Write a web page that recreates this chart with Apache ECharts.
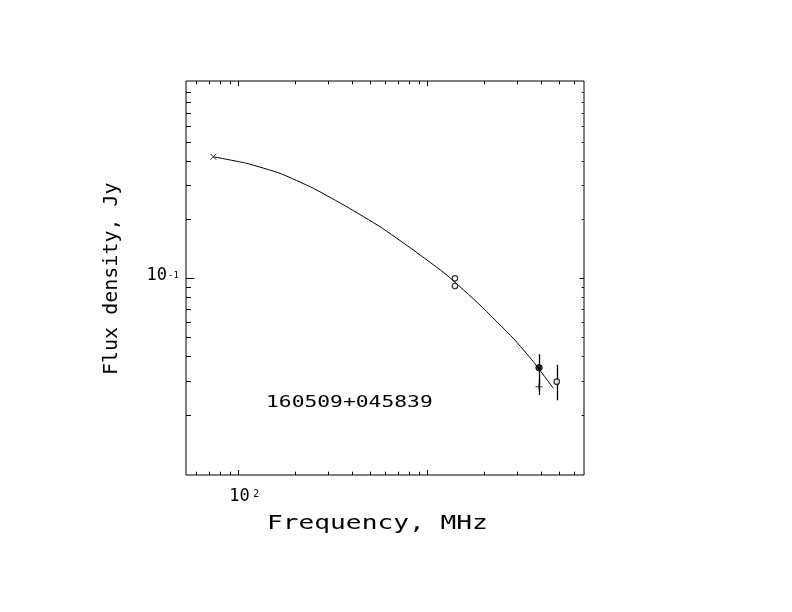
<!DOCTYPE html>
<html>
<head>
<meta charset="utf-8">
<script src="https://cdn.jsdelivr.net/npm/echarts@6/dist/echarts.min.js"></script>
<style>
  html, body { margin: 0; padding: 0; background: #fff; }
  #chart { width: 792px; height: 612px; }
</style>
</head>
<body>
<div id="chart"></div>
<script>
// axis extents (MHz, Jy)
const freqMin = 52.9
const freqMax = 6745
const fluxMin = 0.00987
const fluxMax = 1.02

// tick values
const xMajorTicks = [100, 1000]
const xMinorTicks = [60, 70, 80, 90, 200, 300, 400, 500, 600, 700, 800, 900, 2000, 3000, 4000, 5000, 6000]
const yMajorTicks = [0.1]
const yMinorTicks = [0.02, 0.03, 0.04, 0.05, 0.06, 0.07, 0.08, 0.09, 0.2, 0.3, 0.4, 0.5, 0.6, 0.7, 0.8, 0.9]
const xLabelTicks = [100]
const xLabelExp = ['2']
const yLabelTicks = [0.1]
const yLabelExp = ['-1']

// fitted spectrum
const fitCurve = [
  [73.8, 0.418], [110.8, 0.387], [166.2, 0.344], [249.4, 0.2885],
  [374.6, 0.2323], [561.9, 0.1836], [843.3, 0.1395], [1266.6, 0.104],
  [1900, 0.073], [2851, 0.0493], [3637, 0.0375], [4642, 0.0274]
]

// measurements
const crossPoints = [[73.8, 0.418]]
const openCircles = [[1400, 0.1], [1400, 0.0913], [4840, 0.0296]]
const filledCircles = [[3900, 0.0349]]
const plusPoints = [[3900, 0.0279]]
// [freq, low, high]
const errorBars = [[3900, 0.029, 0.0409], [3900, 0.0253, 0.0305], [4840, 0.0238, 0.0361]]

const sourceName = '160509+045839'
const xName = 'Frequency, MHz'
const yName = 'Flux density, Jy'

const MONO = '"DejaVu Sans Mono", monospace'

function line (x1, y1, x2, y2, w) {
  return { type: 'line', shape: { x1: x1, y1: y1, x2: x2, y2: y2 }, style: { stroke: '#000', lineWidth: w || 1 } }
}

function txt (x, y, text, size, align) {
  return {
    type: 'text',
    x: x,
    y: y,
    style: { text: text, font: size + 'px ' + MONO, fill: '#000', align: align, textAlign: align, verticalAlign: 'top', textVerticalAlign: 'top' }
  }
}

let chart = echarts.init(document.getElementById('chart'))
chart.setOption({
  animation: false,
  backgroundColor: '#fff',
  grid: { left: 186, top: 81, width: 398, height: 394, show: true, borderColor: '#000', borderWidth: 1, backgroundColor: 'transparent' },
  xAxis: {
    type: 'log', logBase: 10, min: freqMin, max: freqMax,
    axisLine: { show: false }, axisTick: { show: false }, axisLabel: { show: false }, splitLine: { show: false }
  },
  yAxis: {
    type: 'log', logBase: 10, min: fluxMin, max: fluxMax,
    axisLine: { show: false }, axisTick: { show: false }, axisLabel: { show: false }, splitLine: { show: false }
  },
  graphic: [
    { type: 'text', x: 267, y: 524, scaleX: 1.31, style: { text: xName, font: '20px ' + MONO, fill: '#000', align: 'left', textAlign: 'left', verticalAlign: 'middle', textVerticalAlign: 'middle' } },
    { type: 'text', x: 112, y: 375, rotation: Math.PI / 2, style: { text: yName, font: '20px ' + MONO, fill: '#000', align: 'left', textAlign: 'left', verticalAlign: 'middle', textVerticalAlign: 'middle' } },
    { type: 'text', x: 266, y: 403, scaleX: 1.42, style: { text: sourceName, font: '15px ' + MONO, fill: '#000', align: 'left', textAlign: 'left', verticalAlign: 'middle', textVerticalAlign: 'middle' } }
  ],
  series: [
    {
      name: 'fit',
      type: 'line',
      data: fitCurve,
      smooth: 0.15,
      showSymbol: false,
      symbol: 'none',
      lineStyle: { color: '#000', width: 1 },
      silent: true
    },
    {
      name: 'xTicks',
      type: 'custom',
      data: xMinorTicks.map(v => [v, fluxMin, 0]).concat(xMajorTicks.map(v => [v, fluxMin, 1])),
      encode: { x: 0, y: 1 },
      clip: false,
      silent: true,
      renderItem: function (params, api) {
        const cs = params.coordSys
        const len = api.value(2) ? 5 : 3.3
        const x = Math.round(api.coord([api.value(0), fluxMin])[0]) + 0.5
        return {
          type: 'group',
          children: [
            line(x, cs.y + cs.height, x, cs.y + cs.height - len),
            line(x, cs.y, x, cs.y + len)
          ]
        }
      }
    },
    {
      name: 'yTicks',
      type: 'custom',
      data: yMinorTicks.map(v => [freqMin, v, 0]).concat(yMajorTicks.map(v => [freqMin, v, 1])),
      encode: { x: 0, y: 1 },
      clip: false,
      silent: true,
      renderItem: function (params, api) {
        const cs = params.coordSys
        const major = api.value(2)
        const y = Math.round(api.coord([freqMin, api.value(1)])[1]) + 0.5
        return {
          type: 'group',
          children: [
            line(cs.x, y, cs.x + (major ? 8.3 : 5), y),
            line(cs.x + cs.width, y, cs.x + cs.width - (major ? 4.3 : 2.3), y)
          ]
        }
      }
    },
    {
      name: 'xLabels',
      type: 'custom',
      data: xLabelTicks.map((v, i) => [v, fluxMin, i]),
      encode: { x: 0, y: 1 },
      clip: false,
      silent: true,
      renderItem: function (params, api) {
        const p = api.coord([api.value(0), fluxMin])
        return {
          type: 'group',
          children: [
            txt(p[0] - 9, p[1] + 13, '10', 17, 'left'),
            txt(p[0] + 15, p[1] + 14, xLabelExp[api.value(2)], 10, 'left')
          ]
        }
      }
    },
    {
      name: 'yLabels',
      type: 'custom',
      data: yLabelTicks.map((v, i) => [freqMin, v, i]),
      encode: { x: 0, y: 1 },
      clip: false,
      silent: true,
      renderItem: function (params, api) {
        const p = api.coord([freqMin, api.value(1)])
        return {
          type: 'group',
          children: [
            txt(p[0] - 19, p[1] - 11, '10', 17, 'right'),
            txt(p[0] - 18, p[1] - 7, yLabelExp[api.value(2)], 9, 'left')
          ]
        }
      }
    },
    {
      name: 'errors',
      type: 'custom',
      data: errorBars,
      encode: { x: 0, y: [1, 2] },
      silent: true,
      renderItem: function (params, api) {
        const lo = api.coord([api.value(0), api.value(1)])
        const hi = api.coord([api.value(0), api.value(2)])
        const x = Math.round(lo[0]) + 0.5
        return line(x, lo[1], x, hi[1], 1.3)
      }
    },
    {
      name: 'cross',
      type: 'scatter',
      data: crossPoints,
      symbol: 'path://M0,0L10,10M10,0L0,10',
      symbolSize: 6,
      itemStyle: { color: 'none', borderColor: '#000', borderWidth: 1 }
    },
    {
      name: 'open',
      type: 'scatter',
      data: openCircles,
      symbol: 'circle',
      symbolSize: 5.5,
      itemStyle: { color: '#fff', borderColor: '#000', borderWidth: 1.2 }
    },
    {
      name: 'filled',
      type: 'scatter',
      data: filledCircles,
      symbol: 'circle',
      symbolSize: 6.5,
      itemStyle: { color: '#000', borderColor: '#000', borderWidth: 1 }
    },
    {
      name: 'plus',
      type: 'scatter',
      data: plusPoints,
      symbol: 'path://M5,0L5,10M0,5L10,5',
      symbolSize: 7,
      itemStyle: { color: 'none', borderColor: '#000', borderWidth: 1 }
    }
  ]
})
</script>
</body>
</html>
